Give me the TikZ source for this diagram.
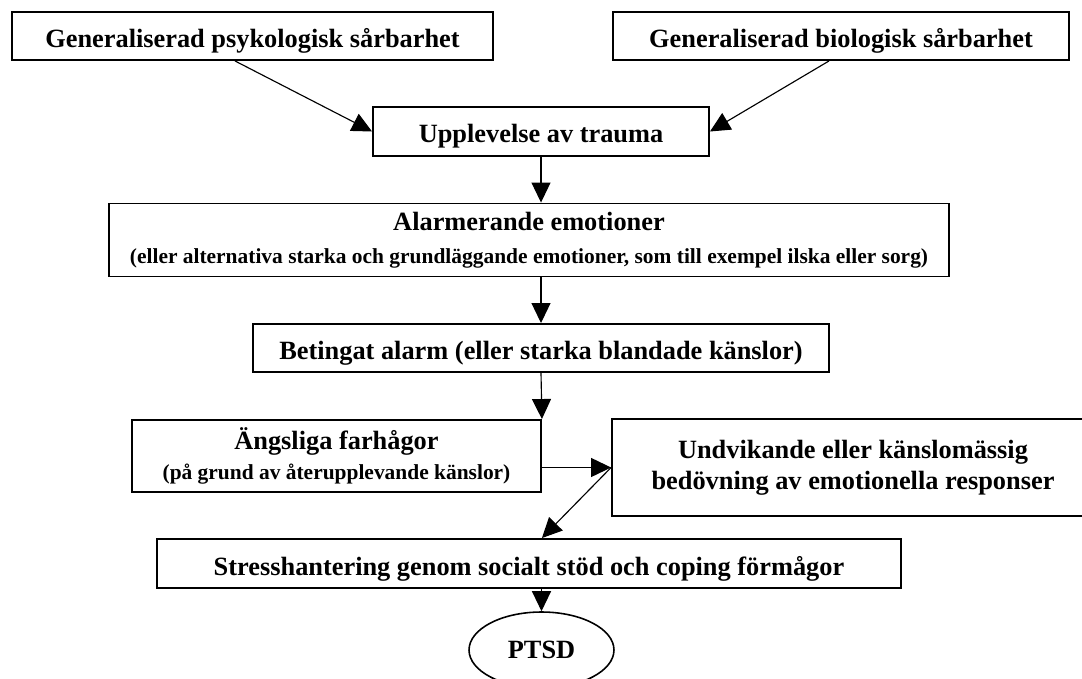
\documentclass[tikz,border=0pt]{standalone}
\usepackage{fontspec}
\setmainfont{Liberation Serif}
\usetikzlibrary{arrows.meta, positioning, shapes.geometric, calc}

\newcommand{\bigtxt}{\fontsize{15}{17.5}\selectfont\bfseries}
\newcommand{\smalltxt}{\fontsize{12.2}{14}\selectfont\bfseries}

\begin{document}
\begin{tikzpicture}[x=0.02cm, y=-0.02cm,
    flowbox/.style={draw, line width=1.1pt, inner sep=0pt, align=center, font=\bigtxt},
    onebox/.style={flowbox, text height=0.46cm, text depth=0pt},
    conn/.style={-{Triangle[length=4mm, width=3.8mm]}, line width=0.65pt}]
  \useasboundingbox (0,0) rectangle (1082,679);

  % --- Top: vulnerabilities ---
  \node[onebox, minimum width=9.62cm, minimum height=0.96cm] (psyk) at (252.5,36) {Generaliserad psykologisk sårbarhet};
  \node[onebox, minimum width=9.12cm, minimum height=0.96cm] (bio) at (841,36) {Generaliserad biologisk sårbarhet};
  \node[onebox, minimum width=6.72cm, minimum height=0.98cm] (trauma) at (541,131.5) {Upplevelse av trauma};

  % --- Middle chain ---
  \node[flowbox, minimum width=16.8cm, minimum height=1.46cm] (alarm) at (529,240)
       {Alarmerande emotioner\\[1pt]{\smalltxt (eller alternativa starka och grundläggande emotioner, som till exempel ilska eller sorg)}};
  \node[onebox, minimum width=11.52cm, minimum height=0.96cm] (betingat) at (541,348) {Betingat alarm (eller starka blandade känslor)};
  \node[flowbox, minimum width=8.18cm, minimum height=1.44cm] (angslig) at (336.5,456)
       {Ängsliga farhågor\\{\smalltxt (på grund av återupplevande känslor)}};
  \node[flowbox, minimum width=9.64cm, minimum height=1.94cm] (undv) at (853,467.5)
       {Undvikande eller känslomässig\\bedövning av emotionella responser};

  % --- Bottom ---
  \node[onebox, minimum width=14.88cm, minimum height=0.98cm] (stress) at (529,563.5) {Stresshantering genom socialt stöd och coping förmågor};
  \node[ellipse, draw, line width=0.9pt, inner sep=0pt, minimum width=2.9cm, minimum height=1.52cm, font=\bigtxt] (ptsd) at (541.5,650) {PTSD};

  % arrows
  \draw[conn] ($(psyk.south)+(-17.5,0)$) -- (trauma.west);
  \draw[conn] ($(bio.south)+(-12,0)$) -- (trauma.east);
  \draw[conn] (trauma.south) -- (trauma.south |- alarm.north);
  \draw[conn] (betingat.north |- alarm.south) -- (betingat.north);
  \draw[conn] (betingat.south) -- (angslig.north east);
  \draw[conn] (angslig.east |- undv.west) -- (undv.west);
  \draw[conn] (undv.west) -- (angslig.south east |- stress.north);
  \draw[conn] (ptsd.north |- stress.south) -- (ptsd.north);
\end{tikzpicture}
\end{document}
